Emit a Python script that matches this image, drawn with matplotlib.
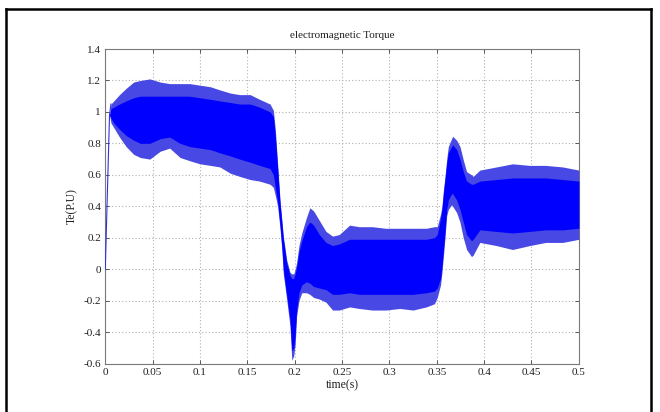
import matplotlib
matplotlib.use("Agg")
import matplotlib.pyplot as plt
from matplotlib.lines import Line2D

# Electromagnetic torque (per unit) vs time (s):
# outer envelope = ripple peaks, core = dense part of the ripple band
time_s = [0.000, 0.0045, 0.006, 0.009, 0.015, 0.022, 0.030, 0.037, 0.047, 0.058,
          0.068, 0.079, 0.089, 0.100, 0.111, 0.121, 0.132, 0.142, 0.153, 0.163,
          0.174, 0.1775, 0.1795, 0.182, 0.1845, 0.1865, 0.188, 0.1915, 0.195, 0.197,
          0.199, 0.2005, 0.202, 0.2045, 0.2075, 0.2125, 0.216, 0.220, 0.226, 0.233,
          0.240, 0.247, 0.258, 0.268, 0.282, 0.296, 0.311, 0.325, 0.339, 0.3475,
          0.3505, 0.354, 0.3555, 0.357, 0.3587, 0.3605, 0.3622, 0.3657, 0.3668, 0.371,
          0.3745, 0.3762, 0.378, 0.3815, 0.3867, 0.3885, 0.3955, 0.413, 0.430, 0.448,
          0.465, 0.483, 0.500]
te_upper = [0.00, 0.98, 1.05, 1.07, 1.11, 1.15, 1.19, 1.20, 1.21, 1.19,
            1.18, 1.18, 1.18, 1.17, 1.16, 1.14, 1.12, 1.11, 1.11, 1.08,
            1.05, 1.01, 0.89, 0.67, 0.44, 0.31, 0.21, 0.06, -0.02, -0.03,
            -0.03, 0.00, 0.04, 0.15, 0.23, 0.33, 0.39, 0.37, 0.31, 0.24,
            0.21, 0.22, 0.28, 0.27, 0.27, 0.26, 0.26, 0.26, 0.26, 0.27,
            0.27, 0.35, 0.40, 0.50, 0.59, 0.70, 0.78, 0.83, 0.845, 0.82,
            0.78, 0.74, 0.695, 0.62, 0.60, 0.59, 0.63, 0.65, 0.67, 0.66,
            0.66, 0.65, 0.63]
te_lower = [0.00, 0.98, 0.93, 0.90, 0.84, 0.78, 0.73, 0.71, 0.70, 0.75,
            0.77, 0.71, 0.69, 0.67, 0.66, 0.65, 0.61, 0.59, 0.57, 0.56,
            0.54, 0.52, 0.47, 0.40, 0.26, 0.12, -0.03, -0.19, -0.36, -0.58,
            -0.55, -0.48, -0.30, -0.20, -0.15, -0.15, -0.16, -0.18, -0.19, -0.21,
            -0.26, -0.26, -0.24, -0.25, -0.26, -0.26, -0.25, -0.26, -0.24, -0.22,
            -0.18, -0.10, -0.02, 0.08, 0.20, 0.34, 0.38, 0.41, 0.40, 0.36,
            0.30, 0.25, 0.20, 0.125, 0.08, 0.09, 0.17, 0.15, 0.125, 0.15,
            0.17, 0.17, 0.19]
core_upper = [0.00, 0.98, 1.02, 1.03, 1.05, 1.07, 1.09, 1.10, 1.10, 1.10,
              1.10, 1.10, 1.10, 1.09, 1.08, 1.07, 1.06, 1.05, 1.05, 1.03,
              1.00, 0.97, 0.85, 0.64, 0.42, 0.29, 0.19, 0.04, -0.04, -0.06,
              -0.06, -0.03, 0.01, 0.11, 0.18, 0.27, 0.30, 0.28, 0.22, 0.17,
              0.15, 0.16, 0.19, 0.19, 0.19, 0.19, 0.19, 0.19, 0.19, 0.20,
              0.22, 0.32, 0.38, 0.48, 0.57, 0.67, 0.74, 0.78, 0.79, 0.76,
              0.70, 0.66, 0.62, 0.56, 0.54, 0.54, 0.56, 0.57, 0.58, 0.58,
              0.58, 0.57, 0.56]
core_lower = [0.00, 0.98, 0.96, 0.93, 0.89, 0.85, 0.82, 0.80, 0.80, 0.83,
              0.84, 0.80, 0.78, 0.77, 0.76, 0.74, 0.72, 0.70, 0.68, 0.66,
              0.64, 0.60, 0.52, 0.43, 0.28, 0.14, 0.00, -0.16, -0.32, -0.52,
              -0.50, -0.42, -0.26, -0.15, -0.10, -0.08, -0.09, -0.11, -0.12, -0.13,
              -0.16, -0.16, -0.15, -0.16, -0.16, -0.16, -0.16, -0.16, -0.15, -0.14,
              -0.12, -0.06, 0.02, 0.12, 0.24, 0.38, 0.44, 0.48, 0.48, 0.44,
              0.38, 0.34, 0.30, 0.22, 0.18, 0.19, 0.25, 0.24, 0.23, 0.24,
              0.25, 0.25, 0.26]

x_ticks = [0, 0.05, 0.1, 0.15, 0.2, 0.25, 0.3, 0.35, 0.4, 0.45, 0.5]
x_tick_labels = ["0", "0.05", "0.1", "0.15", "0.2", "0.25", "0.3", "0.35", "0.4", "0.45", "0.5"]
y_ticks = [-0.6, -0.4, -0.2, 0, 0.2, 0.4, 0.6, 0.8, 1.0, 1.2, 1.4]
y_tick_labels = ["-0.6", "-0.4", "-0.2", "0", "0.2", "0.4", "0.6", "0.8", "1", "1.2", "1.4"]

plt.rcParams["font.family"] = ["Liberation Serif", "DejaVu Serif"]

fig = plt.figure(figsize=(6.6, 4.12), dpi=100)
fig.patch.set_facecolor("white")
ax = fig.add_axes([0.1595, 0.1177, 0.7175, 0.7633])

blue = "#0000ff"
fringe = "#4848e4"
ax.fill_between(time_s, te_lower, te_upper, color=fringe, linewidth=0, zorder=3)
ax.fill_between(time_s, core_lower, core_upper, color=blue, linewidth=0, zorder=4)
# start-up ramp drawn as a thin trace
ax.plot(time_s[:3], te_upper[:3], color="#3030e0", linewidth=0.8, zorder=5)

ax.set_xlim(0, 0.5)
ax.set_ylim(-0.6, 1.4)
ax.set_xticks(x_ticks)
ax.set_xticklabels(x_tick_labels)
ax.set_yticks(y_ticks)
ax.set_yticklabels(y_tick_labels)

ax.grid(True, color="#b0b0b0", linestyle=(0, (1, 2)), linewidth=0.8, zorder=1)
ax.tick_params(direction="in", length=3, width=0.6, colors="#404040",
               top=True, right=True, labelsize=8, pad=3)
for lab in ax.get_xticklabels() + ax.get_yticklabels():
    lab.set_color("#202020")
for s in ax.spines.values():
    s.set_color("#7a7a7a")
    s.set_linewidth(0.8)

ax.set_title("electromagnetic Torque", fontsize=8, color="#202020", pad=8)
ax.set_xlabel("time(s)", fontsize=8.5, color="#202020", labelpad=2)
ax.set_ylabel("Te(P.U)", fontsize=8.5, color="#202020", labelpad=4)

# outer black frame (left, top, right)
W, H = 660.0, 412.0
for (x0, y0, x1, y1) in [(6, 412, 6, 8.5), (6, 8.5, 651, 8.5), (651, 8.5, 651, 412)]:
    fig.add_artist(Line2D([x0 / W, x1 / W], [1 - y0 / H, 1 - y1 / H],
                          color="black", linewidth=1.8, transform=fig.transFigure))

fig.savefig("out.png", dpi=100, facecolor="white")
